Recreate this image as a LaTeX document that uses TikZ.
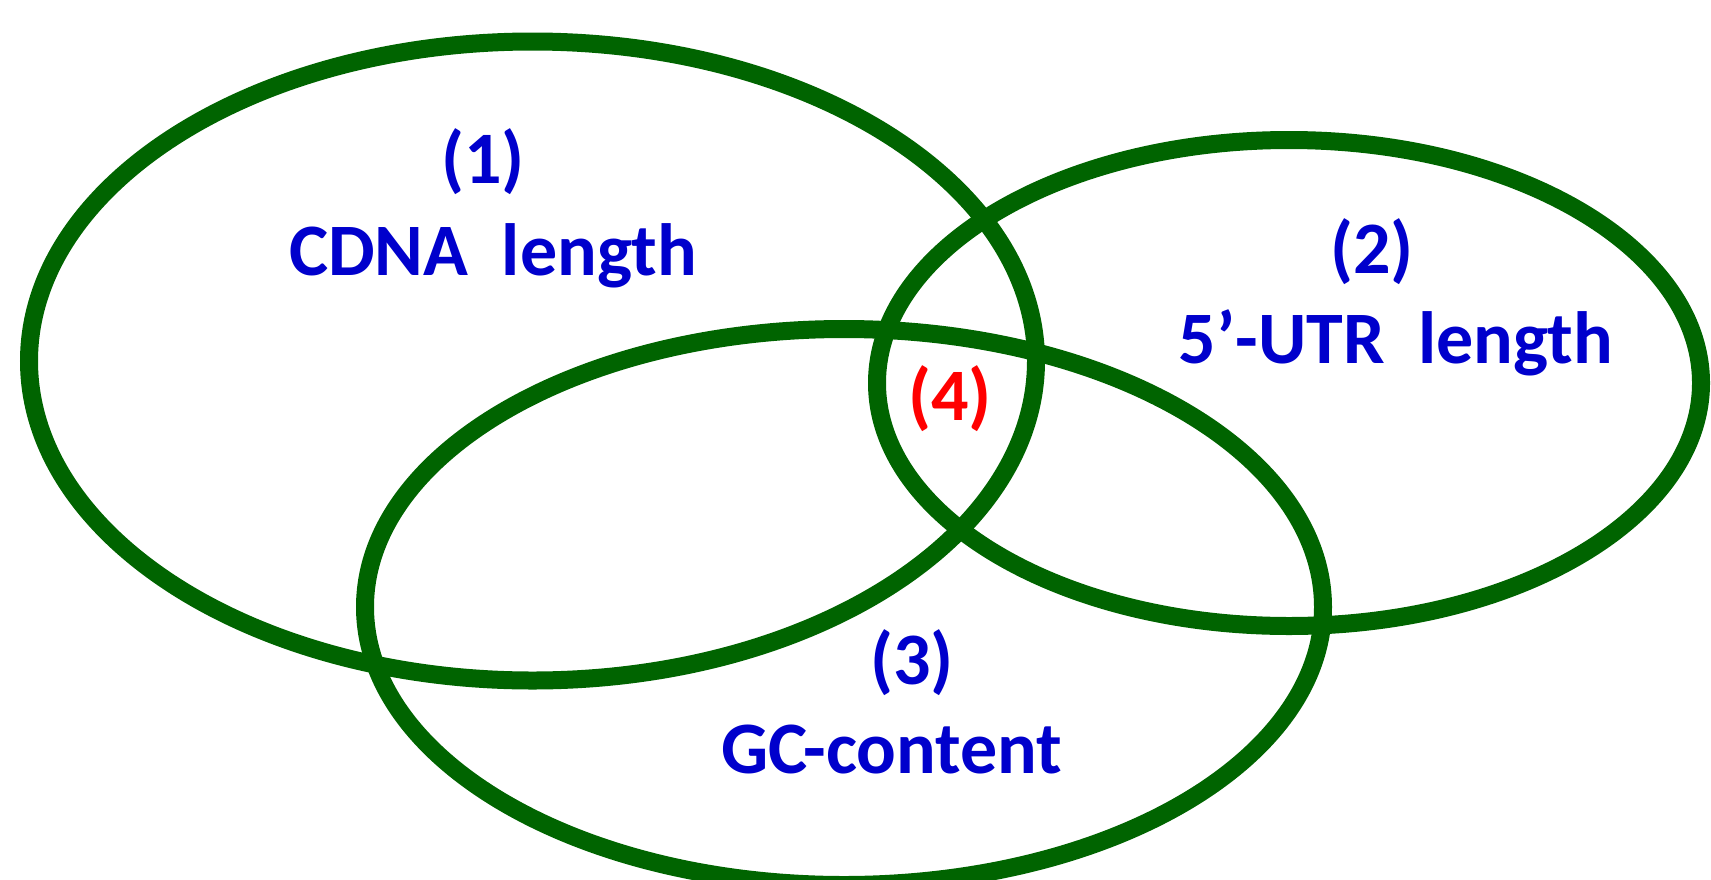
\documentclass[tikz,border=0pt]{standalone}
\usepackage{fontspec}
\setmainfont{Carlito}
\definecolor{vgreen}{RGB}{0,100,0}
\definecolor{vblue}{RGB}{0,0,204}
\definecolor{vred}{RGB}{255,0,0}
\begin{document}
\begin{tikzpicture}[x=1pt,y=-1pt,
  ring/.style={draw=vgreen,line width=18pt},
  lab/.style={anchor=base,inner sep=0pt,text=vblue,font=\fontsize{74}{88}\selectfont\bfseries},
  core/.style={lab,text=vred}]
\useasboundingbox (0,0) rectangle (1711,879);
\begin{scope}
\clip (0,0) rectangle (1711,879);
\draw[ring] (532.5,361) ellipse [x radius=503.5pt, y radius=319.5pt];
\draw[ring] (1289,383) ellipse [x radius=412pt, y radius=243pt];
\draw[ring] (844,607) ellipse [x radius=479pt, y radius=278pt];
\end{scope}
\node[lab] (n1) at (483,183) {(1)};
\node[lab] (t1) at (493,275) {CDNA\ \ length};
\node[lab] (n2) at (1372,273) {(2)};
\node[lab] (t2) at (1396,363) {5’-UTR\ \ length};
\node[lab] (n3) at (912,684) {(3)};
\node[lab] (t3) at (892,773) {GC-content};
\node[core] (n4) at (950,420) {(4)};
\end{tikzpicture}
\end{document}
